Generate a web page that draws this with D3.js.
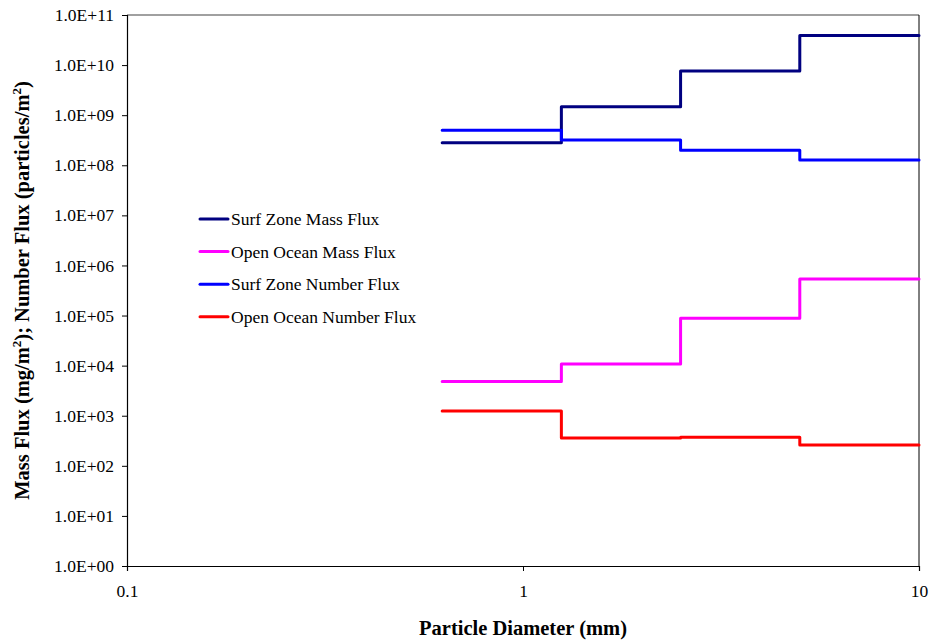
<!DOCTYPE html>
<html>
<head>
<meta charset="utf-8">
<script src="https://cdn.jsdelivr.net/npm/d3@7"></script>
<style>
  body { margin: 0; background: #fff; }
  svg { display: block; font-family: "Liberation Serif", "Times New Roman", serif; }
</style>
</head>
<body>
<svg id="chart" width="930" height="641"></svg>
<script>
// Particle size bin edges (mm)
const binEdges = [0.625, 1.25, 2.5, 5, 10];

// Flux per size bin
const surfMass = [2.8e8, 1.47e9, 7.6e9, 3.9e10];
const oceanMass = [4.8e3, 1.08e4, 8.8e4, 5.35e5];
const surfNumber = [5.0e8, 3.2e8, 2.0e8, 1.27e8];
const oceanNumber = [1.24e3, 3.6e2, 3.7e2, 2.6e2];

const seriesNames = ["Surf Zone Mass Flux", "Open Ocean Mass Flux", "Surf Zone Number Flux", "Open Ocean Number Flux"];
const seriesColors = ["#000080", "#FF00FF", "#0000FF", "#FF0000"];
const seriesValues = [surfMass, oceanMass, surfNumber, oceanNumber];

const xTicks = [0.1, 1, 10];
const yTicks = [1e0, 1e1, 1e2, 1e3, 1e4, 1e5, 1e6, 1e7, 1e8, 1e9, 1e10, 1e11];

(function draw() {
  const FONT = "'Liberation Serif', 'Times New Roman', serif";
  const svg = d3.select("#chart");
  const m = { left: 127, right: 919, top: 15, bottom: 566 };

  const x = d3.scaleLog().domain([0.1, 10]).range([m.left, m.right]);
  const y = d3.scaleLog().domain([1, 1e11]).range([m.bottom, m.top]);

  const fmtY = v => {
    const e = Math.round(Math.log10(v));
    return "1.0E" + (e >= 0 ? "+" : "-") + String(Math.abs(e)).padStart(2, "0");
  };

  // Frame: top and right borders
  svg.append("line").attr("x1", m.left).attr("x2", m.right).attr("y1", m.top).attr("y2", m.top)
    .attr("stroke", "#808080").attr("stroke-width", 1.5);
  svg.append("line").attr("x1", m.right).attr("x2", m.right).attr("y1", m.top).attr("y2", m.bottom)
    .attr("stroke", "#000").attr("stroke-width", 1);

  // Y axis
  const yAxis = svg.append("g").attr("transform", `translate(${m.left},0)`)
    .call(d3.axisLeft(y).tickValues(yTicks).tickFormat(fmtY).tickSize(5).tickPadding(8));
  yAxis.select(".domain").attr("stroke", "#000").attr("stroke-width", 1.2);
  yAxis.selectAll(".tick line").attr("stroke", "#000");
  yAxis.selectAll(".tick text").attr("font-family", FONT).attr("font-size", 17.5).attr("fill", "#000");

  // X axis
  const xAxis = svg.append("g").attr("transform", `translate(0,${m.bottom})`)
    .call(d3.axisBottom(x).tickValues(xTicks).tickFormat(d => String(d)).tickSize(5).tickPadding(14));
  xAxis.select(".domain").attr("stroke", "#000").attr("stroke-width", 1.2);
  xAxis.selectAll(".tick line").attr("stroke", "#000");
  xAxis.selectAll(".tick text").attr("font-family", FONT).attr("font-size", 17.5).attr("fill", "#000");

  // Step lines
  const line = d3.line()
    .x(d => x(d[0]))
    .y(d => y(d[1]))
    .curve(d3.curveStepAfter);

  seriesValues.forEach((vals, i) => {
    const pts = binEdges.map((e, j) => [e, vals[Math.min(j, vals.length - 1)]]);
    svg.append("path")
      .datum(pts)
      .attr("d", line)
      .attr("fill", "none")
      .attr("stroke", seriesColors[i])
      .attr("stroke-width", 3)
      .attr("stroke-linejoin", "round")
      .attr("stroke-linecap", "round");
  });

  // Legend
  const legend = svg.append("g").attr("transform", "translate(200,219)");
  seriesNames.forEach((name, i) => {
    const g = legend.append("g").attr("transform", `translate(0,${i * 32.6})`);
    g.append("line").attr("x1", 0).attr("x2", 28).attr("y1", 0).attr("y2", 0)
      .attr("stroke", seriesColors[i]).attr("stroke-width", 3).attr("stroke-linecap", "round");
    g.append("text").attr("x", 31).attr("y", 6)
      .attr("font-family", FONT).attr("font-size", 17.5).attr("fill", "#000").text(name);
  });

  // Axis titles
  svg.append("text")
    .attr("x", (m.left + m.right) / 2).attr("y", 635)
    .attr("text-anchor", "middle").attr("font-family", FONT)
    .attr("font-weight", "bold").attr("font-size", 20.5)
    .text("Particle Diameter (mm)");

  const yt = svg.append("text")
    .attr("transform", `translate(29,${(m.top + m.bottom) / 2}) rotate(-90)`)
    .attr("text-anchor", "middle").attr("font-family", FONT)
    .attr("font-weight", "bold").attr("font-size", 20.5);
  yt.append("tspan").text("Mass Flux (mg/m");
  yt.append("tspan").attr("font-size", 13).attr("dy", -8).text("2");
  yt.append("tspan").attr("dy", 8).text("); Number Flux (particles/m");
  yt.append("tspan").attr("font-size", 13).attr("dy", -8).text("2");
  yt.append("tspan").attr("dy", 8).text(")");
})();
</script>
</body>
</html>
